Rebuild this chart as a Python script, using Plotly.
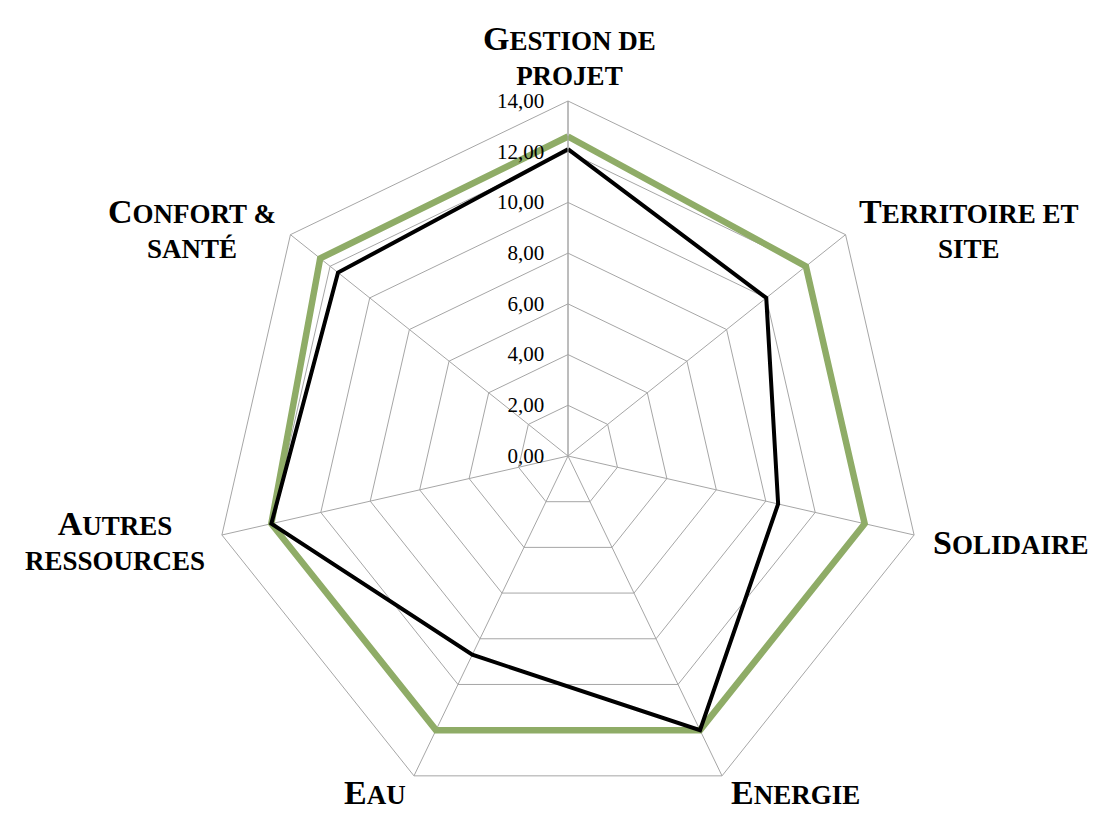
import plotly.graph_objects as go

categories = ['Gestion de projet', 'Territoire et site', 'Solidaire', 'Energie',
              'Eau', 'Autres ressources', 'Confort & santé']
# labels drawn in small caps: big first letter, smaller capitals after
label_lines = [
    ['Gestion de', 'projet'],
    ['Territoire et', 'site'],
    ['Solidaire'],
    ['Energie'],
    ['Eau'],
    ['Autres', 'ressources'],
    ['Confort &', 'santé'],
]
objectif = [12.6, 12.0, 12.0, 12.0, 12.0, 12.0, 12.5]
resultat = [12.1, 10.0, 8.5, 12.0, 8.7, 12.0, 11.6]
radial_ticks = [0, 2, 4, 6, 8, 10, 12, 14]
radial_ticktext = ['0,00', '2,00', '4,00', '6,00', '8,00', '10,00', '12,00', '14,00']

# where each category label sits on the page (pixel centre)
label_pos = [(561, 47), (961, 220), (1002, 534), (787, 784),
             (367, 784), (107, 532), (184, 220)]

W, H = 1115, 827
cx, cy, R = 560, 448, 355
BIG = 34


def small_caps(lines):
    out = []
    for i, line in enumerate(lines):
        if i == 0:
            out.append('<span style="font-size:%dpx">%s</span>%s'
                       % (BIG, line[0].upper(), line[1:].upper()))
        else:
            out.append(line.upper())
    return '<br>'.join(out)


fig = go.Figure()
fig.add_trace(go.Scatterpolar(
    r=objectif + objectif[:1], theta=categories + categories[:1],
    mode='lines', line=dict(color='#8FAC67', width=6.5), name='Objectif'
))
fig.add_trace(go.Scatterpolar(
    r=resultat + resultat[:1], theta=categories + categories[:1],
    mode='lines', line=dict(color='#000000', width=4), name='Résultat'
))

for lines, (px, py) in zip(label_lines, label_pos):
    fig.add_annotation(
        x=px / W, y=1 - py / H, xref='paper', yref='paper',
        text=small_caps(lines), showarrow=False,
        xanchor='center', yanchor='middle', align='center',
        font=dict(family='Liberation Serif', size=27, color='black',
                  weight='bold'),
    )

fig.update_layout(
    width=W, height=H,
    margin=dict(l=0, r=0, t=0, b=0),
    paper_bgcolor='white',
    showlegend=False,
    font=dict(family='Liberation Serif', color='black'),
    polar=dict(
        domain=dict(x=[(cx - R) / W, (cx + R) / W],
                    y=[(H - cy - R) / H, (H - cy + R) / H]),
        bgcolor='white',
        gridshape='linear',
        radialaxis=dict(
            range=[0, 14], tickvals=radial_ticks, ticktext=radial_ticktext,
            angle=90, side='counterclockwise', tickangle=90,
            ticks='outside', ticklen=16, tickcolor='rgba(0,0,0,0)',
            showline=True, linecolor='#a6a6a6', linewidth=1,
            gridcolor='#a6a6a6', gridwidth=1,
            tickfont=dict(family='Liberation Serif', size=21, color='black'),
        ),
        angularaxis=dict(
            direction='clockwise', rotation=90,
            showticklabels=False, ticks='',
            linecolor='#a6a6a6', linewidth=1,
            gridcolor='#a6a6a6', gridwidth=1,
        ),
    ),
)

fig.write_html('out.html')
